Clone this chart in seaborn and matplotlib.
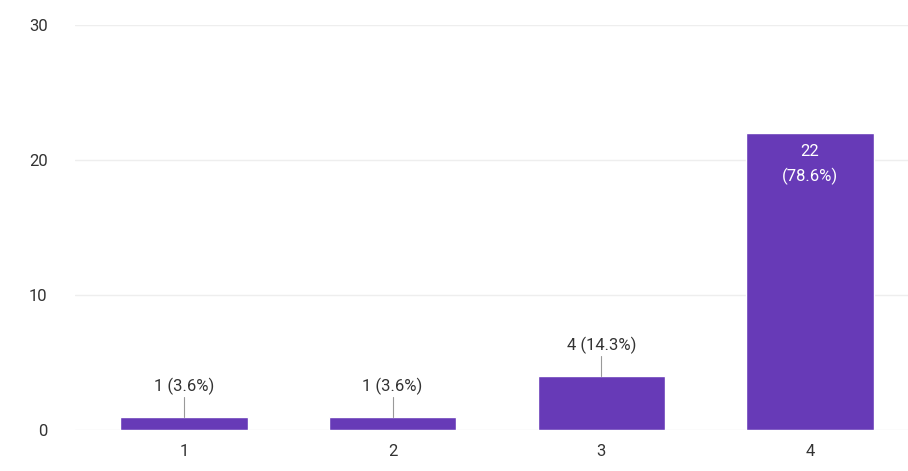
import pandas as pd
import seaborn as sns
import matplotlib.pyplot as plt

# rating categories and response counts
categories = ["1", "2", "3", "4"]
counts = [1, 1, 4, 22]
percents = ["3.6%", "3.6%", "14.3%", "78.6%"]

df = pd.DataFrame({"rating": categories, "count": counts})

sns.set_style("white")
plt.rcParams["font.family"] = ["Roboto", "DejaVu Sans"]

fig = plt.figure(figsize=(9.08, 4.71), dpi=100)
ax = fig.add_axes([0.083, 0.087, 0.917, 0.86])

sns.barplot(data=df, x="rating", y="count", color="#673ab7", saturation=1,
            width=0.61, ax=ax)

ax.set_ylim(0, 30)
ax.set_xlim(-0.52, 3.47)
ax.set_yticks([0, 10, 20, 30])
ax.yaxis.grid(True, color="#eeeeee", linewidth=1)
ax.set_axisbelow(True)
for s in ax.spines.values():
    s.set_visible(False)
ax.tick_params(axis="both", length=0, labelsize=12, colors="#333333")
ax.tick_params(axis="y", pad=20)
ax.tick_params(axis="x", pad=10)
ax.set_xlabel("")
ax.set_ylabel("")

# value labels
for i, (c, p) in enumerate(zip(counts, percents)):
    if c > 10:
        # tall bar: label inside, two lines
        ax.text(i, c - 1.35, f"{c}", ha="center", va="center",
                color="white", fontsize=12)
        ax.text(i, c - 3.2, f"({p})", ha="center", va="center",
                color="white", fontsize=12)
    else:
        ax.plot([i, i], [c, c + 1.45], color="#999999", linewidth=0.8)
        ax.text(i, c + 1.6, f"{c} ({p})", ha="center", va="bottom",
                color="#333333", fontsize=12)

fig.savefig("out.png", dpi=100)
